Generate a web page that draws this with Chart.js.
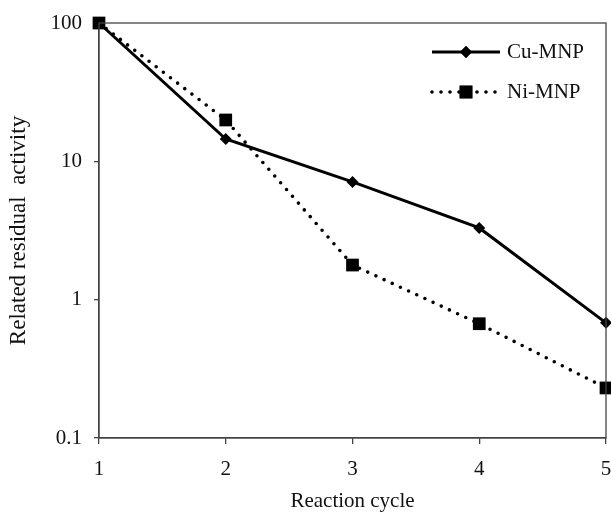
<!DOCTYPE html>
<html>
<head>
<meta charset="utf-8">
<script src="https://cdn.jsdelivr.net/npm/chart.js@4.4.1/dist/chart.umd.min.js"></script>
<style>
  html, body { margin: 0; padding: 0; background: #fff; }
  #wrap { width: 611px; height: 514px; position: relative; }
</style>
</head>
<body>
<div id="wrap"><canvas id="c"></canvas></div>
<script>
const cycles = [1, 2, 3, 4, 5];
const cuMnp = [100, 14.5, 7.1, 3.3, 0.68];
const niMnp = [100, 19.9, 1.78, 0.67, 0.23];
const yTicks = [0.1, 1, 10, 100];

const font = "'Liberation Serif', 'Times New Roman', serif";
const axisColor = "#444";

// frame round the plot + legend inside the top right corner
const frameAndLegend = {
  id: "frameAndLegend",
  afterDatasetsDraw(chart) {
    const { ctx, chartArea: a } = chart;
    ctx.save();
    ctx.strokeStyle = axisColor;
    ctx.lineWidth = 1.3;
    ctx.strokeRect(a.left, a.top, a.right - a.left, a.bottom - a.top);

    const items = chart.data.datasets;
    const x0 = a.right - 174, x1 = a.right - 106;
    items.forEach((ds, i) => {
      const y = a.top + 29 + i * 40;
      ctx.strokeStyle = ds.borderColor;
      ctx.lineWidth = ds.borderWidth;
      ctx.lineCap = ds.borderCapStyle || "butt";
      ctx.setLineDash(ds.borderDash || []);
      ctx.beginPath();
      ctx.moveTo(x0, y);
      ctx.lineTo(x1, y);
      ctx.stroke();
      ctx.setLineDash([]);
      ctx.fillStyle = ds.pointBackgroundColor;
      Chart.helpers.drawPoint(ctx, {
        pointStyle: ds.pointStyle,
        radius: ds.pointRadius,
        borderWidth: 0,
      }, (x0 + x1) / 2, y);
      ctx.fill();
      ctx.fillStyle = "#111";
      ctx.font = "21px " + font;
      ctx.textBaseline = "middle";
      ctx.fillText(ds.label, x1 + 7, y);
    });
    ctx.restore();
  },
};

new Chart(document.getElementById("c"), {
  type: "line",
  data: {
    labels: cycles,
    datasets: [
      {
        label: "Cu-MNP",
        data: cycles.map((c, i) => ({ x: c, y: cuMnp[i] })),
        borderColor: "#000",
        borderWidth: 3,
        pointStyle: "rectRot",
        pointRadius: 6,
        pointBackgroundColor: "#000",
        pointBorderWidth: 0,
        clip: false,
      },
      {
        label: "Ni-MNP",
        data: cycles.map((c, i) => ({ x: c, y: niMnp[i] })),
        borderColor: "#000",
        borderWidth: 3.6,
        borderDash: [0, 9],
        borderCapStyle: "round",
        pointStyle: "rect",
        pointRadius: 9,
        pointBackgroundColor: "#000",
        pointBorderWidth: 0,
        clip: false,
      },
    ],
  },
  options: {
    responsive: true,
    maintainAspectRatio: false,
    animation: false,
    events: [],
    layout: { autoPadding: false, padding: { top: 23, right: 5, left: 0, bottom: 0 } },
    plugins: { legend: { display: false }, tooltip: { enabled: false } },
    scales: {
      x: {
        type: "linear",
        min: 1,
        max: 5,
        afterBuildTicks: (s) => { s.ticks = cycles.map((v) => ({ value: v })); },
        afterFit: (s) => {
          s.height = 76;
          s.paddingLeft = 0;
          s.paddingRight = 0;
        },
        ticks: { color: "#111", font: { family: font, size: 21 }, padding: 13 },
        grid: { drawOnChartArea: false, tickLength: 6, color: axisColor, lineWidth: 1.3 },
        border: { color: axisColor, width: 1.3 },
        title: {
          display: true,
          text: "Reaction cycle",
          color: "#111",
          font: { family: font, size: 21 },
          padding: { top: 0, bottom: 0 },
        },
      },
      y: {
        type: "logarithmic",
        min: 0.1,
        max: 100,
        afterBuildTicks: (s) => { s.ticks = yTicks.map((v) => ({ value: v })); },
        afterFit: (s) => {
          s.width = 99;
          s.paddingTop = 0;
          s.paddingBottom = 0;
        },
        ticks: {
          color: "#111",
          font: { family: font, size: 21 },
          padding: 12,
          callback: (v) => String(v),
        },
        grid: { drawOnChartArea: false, tickLength: 5, color: axisColor, lineWidth: 1.3 },
        border: { color: axisColor, width: 1.3 },
        title: {
          display: true,
          text: "Related residual  activity",
          color: "#111",
          font: { family: font, size: 23 },
          padding: { top: 5, bottom: 0 },
        },
      },
    },
  },
  plugins: [frameAndLegend],
});
</script>
</body>
</html>
